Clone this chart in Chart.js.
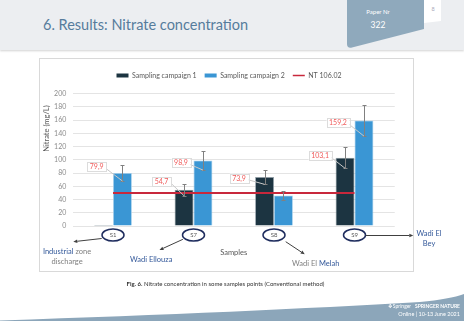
<!DOCTYPE html>
<html><head><meta charset="utf-8">
<script src="https://cdn.jsdelivr.net/npm/chart.js@4.4.1/dist/chart.umd.min.js"></script>
<style>
html,body{margin:0;padding:0;width:464px;height:321px;overflow:hidden;background:#fff;font-family:Lato,'Open Sans',sans-serif;}
#wrap{position:relative;width:464px;height:321px;}
.abs{position:absolute;white-space:nowrap;line-height:1;}
#hdr{position:absolute;left:0;top:0;width:464px;height:50px;background:#eceef1;box-shadow:0 1px 2px rgba(0,0,0,0.18);}
#title{left:43px;top:17.5px;font-size:14.5px;color:#567c9c;}
#frame{position:absolute;left:39px;top:58px;width:373px;height:212px;border:1px solid #d9d9d9;background:#fff;}
#cv{position:absolute;left:0;top:0;}
.blue{color:#34599a;} .gray{color:#7f7f7f;}
</style></head>
<body><div id="wrap">
<div id="hdr"></div>
<svg class="abs" style="left:0;top:0" width="464" height="321">
 <path d="M347,0 L424,0 L424,29 L352,47.5 Q347,48.5 347,44 Z" fill="#8fa9bc"/>
 <path d="M424,0 L441,0 L441,21 L424,23 Z" fill="#fff"/>
 <path d="M0,321 L0,320.5 Q250,312 420,302 Q450,299 464,294 L464,321 Z" fill="#8ca6ba"/>
</svg>
<div class="abs" id="title">6. Results: Nitrate concentration</div>
<div class="abs" style="left:356px;top:8.5px;width:44px;text-align:center;font-size:6px;color:#fff;">Paper Nr</div>
<div class="abs" style="left:356px;top:20.5px;width:44px;text-align:center;font-size:8.5px;color:#fff;">322</div>
<div class="abs" style="left:428px;top:7px;width:10px;text-align:center;font-size:5.5px;color:#aab;">8</div>
<div id="frame"></div>
<canvas id="cv" width="464" height="321"></canvas>
<div class="abs" style="left:37px;top:246.5px;width:60px;text-align:center;font-size:7.5px;line-height:10.6px;white-space:normal;"><span class="blue">Industrial</span> <span class="gray">zone discharge</span></div>
<div class="abs blue" style="left:130px;top:255.5px;font-size:7.5px;">Wadi Ellouza</div>
<div class="abs" style="left:292px;top:259.5px;font-size:7.5px;"><span class="gray">Wadi El</span> <span class="blue">Melah</span></div>
<div class="abs blue" style="left:416px;top:228.5px;width:26px;text-align:center;font-size:7.5px;line-height:10.6px;white-space:normal;">Wadi El Bey</div>
<div class="abs" style="left:80px;top:281px;width:291px;text-align:center;font-size:6px;color:#333;"><b>Fig. 6.</b> Nitrate concentration in some samples points (Conventional method)</div>
<div class="abs" style="left:360px;top:304px;width:100px;text-align:right;font-size:5px;color:#fff;">&#10070; Springer &nbsp; <b>SPRINGER NATURE</b></div>
<div class="abs" style="left:360px;top:312px;width:100px;text-align:right;font-size:5.5px;color:#fff;">Online | 10-13 June 2021</div>
</div>
<script>
// ---- data ----
const categories = ['S1', 'S7', 'S8', 'S9'];
const seriesNames = ['Sampling campaign 1', 'Sampling campaign 2', 'NT 106.02'];
const campaign1 = [0, 54.7, 73.9, 103.1];
const campaign2 = [79.9, 98.9, 46.0, 159.2];
const campaign1Err = [0, 9, 11, 16];
const campaign2Err = [12, 14.5, 7, 23.5];
const ntLimit = [50, 50, 50, 50];
const yMin = 0, yMax = 200, yStep = 20;
const yTitle = 'Nitrate (mg/L)';
const xTitle = 'Samples';

// ---- styles ----
const C1 = '#1c3441', C2 = '#3a96d4', RED = '#c8283c';
const labelOffsets = [ // [dx, dy] from bar top centre; null = no label
  [null, [-22.5, -8.5], [-25.5, 0.8], [-25, -2]],
  [[-25.8, -6.5], [-22, 2.1], null, [-26, 2]]
];
const arrowOffsets = [ // from ellipse centre: [x1,y1,x2,y2]
  [-11.3, 3.5, -39.7, 6.7],
  [-10.6, 4.3, -34, 15],
  [11.7, 6.7, 30.7, 19.3],
  [11, 0.5, 58.8, 0.5]
];
Chart.defaults.font.family = 'Lato';
const fmt = v => v.toFixed(1).replace('.', ',');

function arrow(ctx, x1, y1, x2, y2) {
  const a = Math.atan2(y2 - y1, x2 - x1), L = 4, W = 1.8;
  ctx.beginPath(); ctx.moveTo(x1, y1); ctx.lineTo(x2 - Math.cos(a) * L, y2 - Math.sin(a) * L); ctx.stroke();
  ctx.beginPath(); ctx.moveTo(x2, y2);
  ctx.lineTo(x2 - Math.cos(a) * L - Math.sin(a) * W, y2 - Math.sin(a) * L + Math.cos(a) * W);
  ctx.lineTo(x2 - Math.cos(a) * L + Math.sin(a) * W, y2 - Math.sin(a) * L - Math.cos(a) * W);
  ctx.closePath(); ctx.fill();
}

const extras = {
  id: 'extras',
  afterDatasetsDraw(chart) {
    const ctx = chart.ctx, ys = chart.scales.y;
    const vals = [campaign1, campaign2], errs = [campaign1Err, campaign2Err];
    ctx.save();
    [0, 1].forEach(di => {
      chart.getDatasetMeta(di).data.forEach((bar, i) => {
        const e = errs[di][i]; if (!e) return;
        const x = Math.round(bar.x) + 0.5;
        const yt = Math.round(ys.getPixelForValue(vals[di][i] + e)) + 0.5;
        const yb = Math.round(ys.getPixelForValue(vals[di][i] - e)) + 0.5;
        ctx.strokeStyle = '#808080'; ctx.lineWidth = 1;
        ctx.beginPath();
        ctx.moveTo(x, yt); ctx.lineTo(x, yb);
        ctx.moveTo(x - 2, yt); ctx.lineTo(x + 2, yt);
        ctx.moveTo(x - 2, yb); ctx.lineTo(x + 2, yb);
        ctx.stroke();
      });
    });
    ctx.font = '7px Lato';
    [0, 1].forEach(di => {
      chart.getDatasetMeta(di).data.forEach((bar, i) => {
        const off = labelOffsets[di][i]; if (!off) return;
        const txt = fmt(vals[di][i]);
        const w = ctx.measureText(txt).width + 5, h = 8.5;
        const cx = bar.x + off[0], cy = ys.getPixelForValue(vals[di][i]) + off[1];
        const ex = bar.x, ey = ys.getPixelForValue(vals[di][i] - errs[di][i]);
        ctx.strokeStyle = '#c8c8c8'; ctx.lineWidth = 1;
        ctx.beginPath(); ctx.moveTo(cx + w / 2, cy + 2); ctx.lineTo(ex, ey); ctx.stroke();
        ctx.fillStyle = '#fff'; ctx.strokeStyle = '#dcdcdc';
        ctx.fillRect(cx - w / 2, cy - h / 2, w, h);
        ctx.strokeRect(Math.round(cx - w / 2) + 0.5, Math.round(cy - h / 2) + 0.5, Math.round(w), Math.round(h));
        ctx.fillStyle = '#f05a5a'; ctx.textAlign = 'center'; ctx.textBaseline = 'middle';
        ctx.fillText(txt, cx, cy + 0.5);
      });
    });
    ctx.restore();
  },
  afterDraw(chart) {
    const ctx = chart.ctx, xs = chart.scales.x, ca = chart.chartArea;
    ctx.save();
    ctx.font = '7.5px Lato'; ctx.fillStyle = '#595959'; ctx.textAlign = 'center'; ctx.textBaseline = 'middle';
    ctx.translate(ca.left - 26.5, ca.top + 35); ctx.rotate(-Math.PI / 2); ctx.fillText(yTitle, 0, 0);
    ctx.restore(); ctx.save();
    categories.forEach((c, i) => {
      const cx = xs.getPixelForTick(i), cy = xs.top + 9;
      ctx.strokeStyle = '#1f2d5e'; ctx.lineWidth = 1.5;
      ctx.beginPath(); ctx.ellipse(cx, cy, 11, 6, 0, 0, Math.PI * 2); ctx.stroke();
      const a = arrowOffsets[i];
      ctx.strokeStyle = '#404040'; ctx.fillStyle = '#404040'; ctx.lineWidth = 1;
      arrow(ctx, cx + a[0], cy + a[1], cx + a[2], cy + a[3]);
    });
    ctx.restore();
  }
};

new Chart(document.getElementById('cv'), {
  data: {
    labels: categories,
    datasets: [
      { type: 'bar', label: seriesNames[0], data: campaign1, backgroundColor: C1, borderColor: '#9aa7ae', borderWidth: 0.8, minBarLength: 1, order: 1 },
      { type: 'bar', label: seriesNames[1], data: campaign2, backgroundColor: C2, borderColor: '#a9d0ec', borderWidth: 0.8, order: 1 },
      { type: 'line', label: seriesNames[2], data: ntLimit, borderColor: RED, backgroundColor: RED, borderWidth: 2, pointRadius: 0, order: 0 }
    ]
  },
  options: {
    responsive: false,
    animation: false,
    layout: { padding: { left: 39, right: 45, top: 64, bottom: 50 } },
    datasets: { bar: { categoryPercentage: 0.47, barPercentage: 1 } },
    plugins: {
      tooltip: { enabled: false },
      legend: {
        position: 'top', align: 'center',
        labels: {
          font: { size: 7 }, color: '#595959', usePointStyle: true, pointStyleWidth: 12, boxHeight: 4, padding: 8,
          generateLabels(chart) {
            const items = Chart.defaults.plugins.legend.labels.generateLabels(chart);
            items.sort((a, b) => a.datasetIndex - b.datasetIndex);
            items.forEach(it => {
              if (it.datasetIndex === 2) { it.pointStyle = 'line'; it.lineWidth = 1.5; it.strokeStyle = RED; }
              else { it.pointStyle = 'rect'; it.lineWidth = 0; }
            });
            return items;
          }
        }
      }
    },
    scales: {
      x: {
        grid: { display: false, drawTicks: false }, border: { display: false },
        ticks: { font: { size: 6 }, color: '#595959', padding: 5 },
        title: { display: true, text: xTitle, font: { size: 7.5 }, color: '#595959', padding: { top: 0, bottom: 14 } },
        afterFit(s) { s.height = 45; }
      },
      xT: {
        type: 'category', position: 'top', grid: { display: false, drawTicks: false }, border: { display: false },
        ticks: { display: false }, afterFit(s) { s.height = 4.5; }
      },
      y: {
        min: yMin, max: yMax,
        ticks: { stepSize: yStep, font: { size: 7 }, color: '#8c8c8c', padding: 6.5 },
        grid: { color: '#e4e4e4', drawTicks: false }, border: { display: false },
        afterFit(s) { s.width = 33.75; }
      },
      yR: {
        type: 'linear', position: 'right', grid: { display: false }, border: { display: false },
        ticks: { display: false }, afterFit(s) { s.width = 24.25; }
      }
    }
  },
  plugins: [extras]
});
</script>
</body></html>
